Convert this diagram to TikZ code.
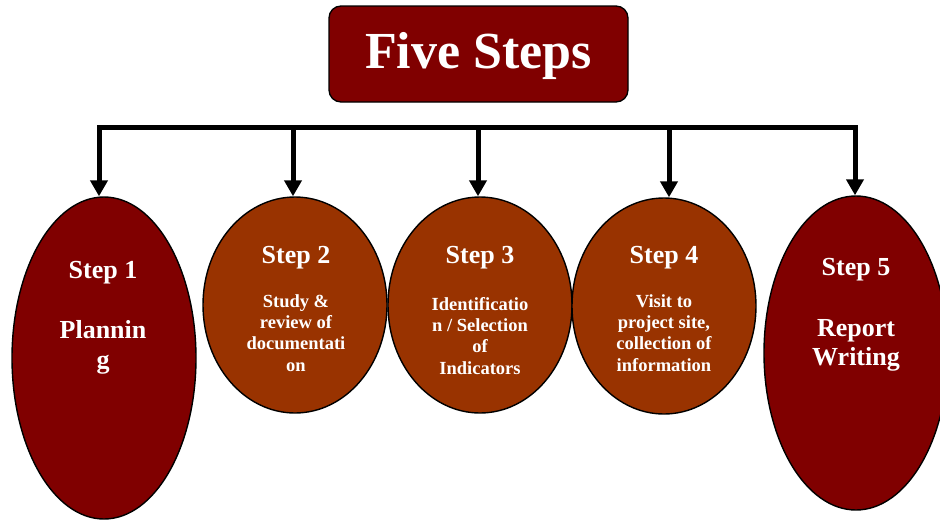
\documentclass[tikz,border=0pt]{standalone}
\usepackage{fontspec}
\setmainfont{Liberation Serif}
\usetikzlibrary{arrows.meta,shapes.geometric}
\definecolor{maroon}{RGB}{128,0,0}
\definecolor{rust}{RGB}{153,51,0}
\tikzset{
  titlebox/.style={draw=black, line width=1.3pt, fill=maroon, rounded corners=12pt,
    minimum width=299pt, minimum height=96pt, inner sep=0pt, text=white,
    font=\bfseries\fontsize{52}{56}\selectfont, text height=38pt, text depth=10pt},
  stepshape/.style={ellipse, draw=black, line width=1.4pt, inner sep=0pt,
    minimum width=184pt},
  % multi-line labels are placed by the baseline of their last line
  head/.style={text=white, inner sep=0pt, anchor=base, align=center,
    font=\bfseries\fontsize{26}{30}\selectfont},
  small/.style={text=white, inner sep=0pt, anchor=base, align=center,
    font=\bfseries\fontsize{18.5}{21.3}\selectfont},
  big/.style={text=white, inner sep=0pt, anchor=base, align=center,
    font=\bfseries\fontsize{26}{29}\selectfont},
  conn/.style={line width=5pt, draw=black},
  tip/.style={-{Triangle[width=17pt,length=16pt]}},
}
\begin{document}
\begin{tikzpicture}[x=1pt, y=-1pt]
\useasboundingbox (0,0) rectangle (940,520);

% heading
\node[titlebox] (title) at (478.5,54) {Five Steps};

% the five steps
\node[stepshape, fill=maroon, minimum height=322pt] (s1) at (104,358) {};
\node[stepshape, fill=rust, minimum height=216pt] (s2) at (295,305) {};
\node[stepshape, fill=rust, minimum height=216pt] (s3) at (480,305) {};
\node[stepshape, fill=rust, minimum height=216pt] (s4) at (664,306) {};
\node[stepshape, fill=maroon, minimum height=314pt] (s5) at (856,353) {};

% labels
\node[head] (h1) at (103,278) {Step 1};
\node[big, font=\bfseries\fontsize{26}{30}\selectfont] (t1) at (103,368) {Plannin\\g};
\node[head] (h2) at (296,263) {Step 2};
\node[small] (t2) at (296,371) {Study \&\\review of\\documentati\\on};
\node[head] (h3) at (480,263) {Step 3};
\node[small] (t3) at (480,374) {Identificatio\\n / Selection\\of\\Indicators};
\node[head] (h4) at (664,263) {Step 4};
\node[small] (t4) at (664,371) {Visit to\\project site,\\collection of\\information};
\node[head] (h5) at (856,275) {Step 5};
\node[big, font=\bfseries\fontsize{26}{28.5}\selectfont] (t5) at (856,365) {Report\\Writing};

% distribution bar
\coordinate (b1) at (99,127);
\coordinate (b2) at (293,127);
\coordinate (b3) at (478,127);
\coordinate (b4) at (669,127);
\coordinate (b5) at (855,127);

\draw[conn, {Triangle[width=17pt,length=16pt]}-{Triangle[width=17pt,length=16pt]}]
  (b1 |- s1.north) -- (b1) -- (b5) -- (b5 |- s5.north);
\draw[conn, tip] (b2) -- (b2 |- s2.north);
\draw[conn, tip] (b3) -- (b3 |- s3.north);
\draw[conn, tip] (b4) -- (b4 |- s4.north);
\end{tikzpicture}
\end{document}
